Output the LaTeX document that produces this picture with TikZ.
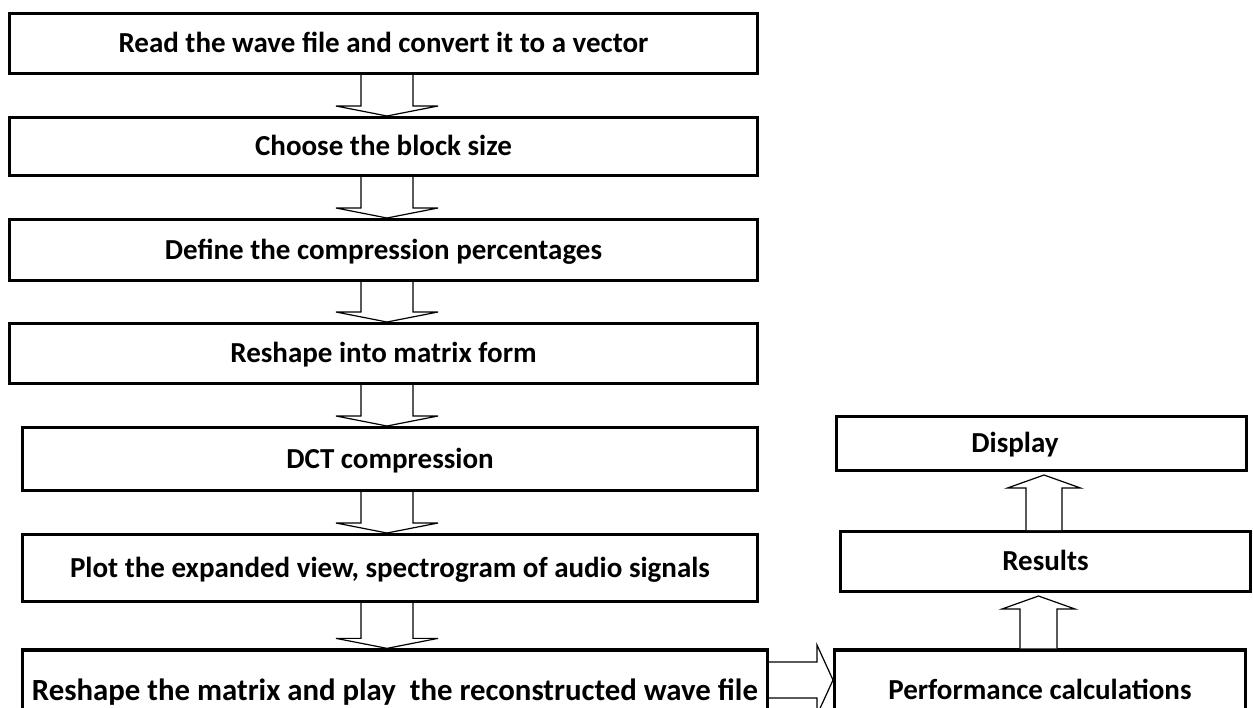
\documentclass[tikz,border=0pt]{standalone}
\usepackage{fontspec}
\setmainfont{Carlito}
\usetikzlibrary{calc}
\tikzset{
  box/.style={draw=black, line width=3.3pt, rectangle, inner sep=0pt,
    font=\fontsize{29}{34}\selectfont\bfseries, text height=18.7pt, text depth=0pt},
  bigbox/.style={box, font=\fontsize{30.8}{36}\selectfont\bfseries, text height=19.8pt},
  txt/.style={inner sep=0pt, font=\fontsize{29}{34}\selectfont\bfseries, text height=18.7pt, text depth=0pt},
  blk/.style={draw=black, line width=1.2pt, fill=white, line join=miter}
}
\newcommand\blockdown[3]{%
  \draw[blk] ($(#1.south -| #3)+(-26,0)$) -- ($(#2.north -| #3)+(-26,-10)$)
    -- ($(#2.north -| #3)+(-51,-10)$) -- (#2.north -| #3)
    -- ($(#2.north -| #3)+(51,-10)$) -- ($(#2.north -| #3)+(26,-10)$)
    -- ($(#1.south -| #3)+(26,0)$);}
\begin{document}
\begin{tikzpicture}[x=1pt,y=-1pt]
\useasboundingbox (0,0) rectangle (1253,707);
\fill[white] (0,0) rectangle (1253,707);
\clip (0,0) rectangle (1253,707);
% left column
\node[box, minimum width=747.7pt, minimum height=59.7pt] (b1) at (383.5,43.5) {Read the wave file and convert it to a vector};
\node[box, minimum width=747.7pt, minimum height=57.7pt] (b2) at (383.5,146.5) {Choose the block size};
\node[box, minimum width=747.7pt, minimum height=60.7pt] (b3) at (383.5,250) {Define the compression percentages};
\node[box, minimum width=747.7pt, minimum height=59.7pt] (b4) at (383.5,353.5) {Reshape into matrix form};
\node[box, minimum width=734.7pt, minimum height=62.7pt] (b5) at (390,459) {DCT compression};
\node[box, minimum width=734.7pt, minimum height=66.7pt] (b6) at (390,568) {Plot the expanded view, spectrogram of audio signals};
\node[bigbox, minimum width=744.7pt, minimum height=82pt] (b7) at (395,691) {Reshape the matrix and play~ the reconstructed wave file};
% right column
\node[box, minimum width=409.7pt, minimum height=53.7pt] (disp) at (1041.5,443.5) {};
\node[txt] (dispt) at (1015,443.5) {Display};
\node[box, minimum width=409.7pt, minimum height=59.7pt] (res) at (1045.5,561.5) {Results};
\node[box, minimum width=410.7pt, minimum height=80pt] (perf) at (1040,690) {Performance calculations};
% down arrows
\coordinate (ax) at (387,0);
\blockdown{b1}{b2}{ax}
\blockdown{b2}{b3}{ax}
\blockdown{b3}{b4}{ax}
\blockdown{b4}{b5}{ax}
\blockdown{b5}{b6}{ax}
\blockdown{b6}{b7}{ax}
% up arrows
\coordinate (ux1) at (1044,0);
\coordinate (ux2) at (1038.5,0);
\draw[blk] ($(res.north -| ux1)+(-18,0)$) -- ($(disp.south -| ux1)+(-18,16)$)
  -- ($(disp.south -| ux1)+(-36.5,16)$) -- ($(disp.south -| ux1)+(0,3)$)
  -- ($(disp.south -| ux1)+(36.5,16)$) -- ($(disp.south -| ux1)+(18,16)$)
  -- ($(res.north -| ux1)+(18,0)$);
\draw[blk] ($(perf.north -| ux2)+(-18.5,0)$) -- ($(res.south -| ux2)+(-18.5,16)$)
  -- ($(res.south -| ux2)+(-36.5,16)$) -- ($(res.south -| ux2)+(0,3)$)
  -- ($(res.south -| ux2)+(36.5,16)$) -- ($(res.south -| ux2)+(18.5,16)$)
  -- ($(perf.north -| ux2)+(18.5,0)$);
% right arrow
\coordinate (hy) at (0,680);
\draw[blk] ($(b7.east |- hy)+(0,-18)$) -- ($(perf.west |- hy)+(-16,-18)$)
  -- ($(perf.west |- hy)+(-16,-35)$) -- (perf.west |- hy)
  -- ($(perf.west |- hy)+(-16,35)$) -- ($(perf.west |- hy)+(-16,18)$)
  -- ($(b7.east |- hy)+(0,18)$);
\end{tikzpicture}
\end{document}
